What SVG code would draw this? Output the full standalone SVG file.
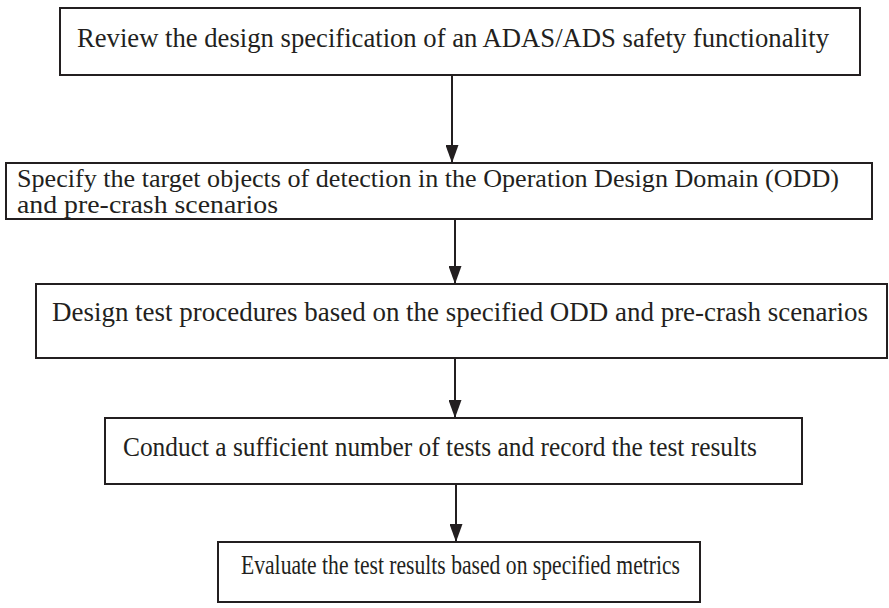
<svg xmlns="http://www.w3.org/2000/svg" width="889" height="608" viewBox="0 0 889 608">
<style>
.box{fill:#fff;stroke:#231f20;stroke-width:2}
.t{font-family:"Liberation Serif","Times New Roman",serif;font-size:27px;fill:#231f20}
.s{font-size:25px}
.c{stroke:#231f20;stroke-width:2;fill:none}
</style>
<defs>
<marker id="ah" viewBox="0 0 18 13" refX="18" refY="6.5" markerWidth="18" markerHeight="13" markerUnits="userSpaceOnUse" orient="auto">
<path d="M0,0 L18,6.5 L0,13 Z" fill="#231f20"/>
</marker>
</defs>
<rect width="889" height="608" fill="#fff"/>
<g id="n1"><rect class="box" x="60" y="8" width="800" height="67"/><text class="t" x="77" y="47" textLength="752" lengthAdjust="spacingAndGlyphs">Review the design specification of an ADAS/ADS safety functionality</text></g>
<g id="n2"><rect class="box" x="6" y="163" width="866" height="56"/><text class="t s" x="17" y="187" textLength="822" lengthAdjust="spacingAndGlyphs">Specify the target objects of detection in the Operation Design Domain (ODD)</text><text class="t s" x="17" y="213" textLength="261" lengthAdjust="spacingAndGlyphs">and pre-crash scenarios</text></g>
<g id="n3"><rect class="box" x="36" y="284" width="851" height="74"/><text class="t" x="52" y="321" textLength="816" lengthAdjust="spacingAndGlyphs">Design test procedures based on the specified ODD and pre-crash scenarios</text></g>
<g id="n4"><rect class="box" x="105" y="418" width="697" height="66"/><text class="t" x="123" y="456" textLength="634" lengthAdjust="spacingAndGlyphs">Conduct a sufficient number of tests and record the test results</text></g>
<g id="n5"><rect class="box" x="218" y="542" width="482" height="60"/><text class="t" x="241" y="574" textLength="439" lengthAdjust="spacingAndGlyphs">Evaluate the test results based on specified metrics</text></g>
<g id="connectors">
<line class="c" x1="452" y1="75" x2="452" y2="163" marker-end="url(#ah)"/>
<line class="c" x1="455" y1="219" x2="455" y2="284" marker-end="url(#ah)"/>
<line class="c" x1="455" y1="358" x2="455" y2="418" marker-end="url(#ah)"/>
<line class="c" x1="456" y1="484" x2="456" y2="542" marker-end="url(#ah)"/>
</g>
</svg>
